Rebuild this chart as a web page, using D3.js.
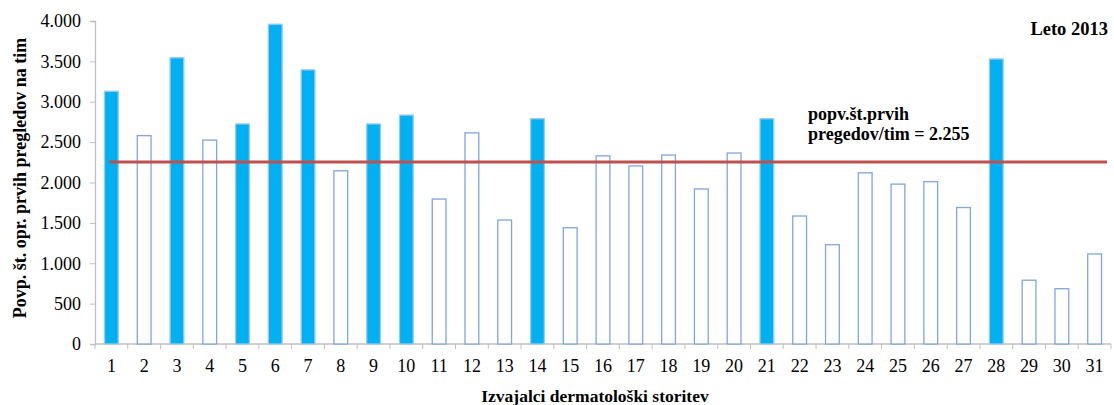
<!DOCTYPE html>
<html>
<head>
<meta charset="utf-8">
<script src="https://cdn.jsdelivr.net/npm/d3@7"></script>
<style>
  body { margin: 0; background: #fff; }
</style>
</head>
<body>
<svg id="chart" width="1114" height="405"></svg>
<script>
// Providers of dermatology services, 2013
const providers = d3.range(1, 32).map(String);
const firstVisits = [3130, 2580, 3545, 2525, 2725, 3960, 3395, 2145, 2725, 2835,
                     1795, 2615, 1535, 2790, 1440, 2330, 2205, 2340, 1920, 2365,
                     2790, 1585, 1230, 2120, 1980, 2010, 1690, 3530, 790, 685, 1115];
// Providers above the average are drawn as solid bars
const aboveAverage = ["1", "3", "5", "6", "7", "9", "10", "14", "21", "28"];
const averageValue = 2255;
const yTicks = [0, 500, 1000, 1500, 2000, 2500, 3000, 3500, 4000];

const SERIF = "'Liberation Serif'";

const svg = d3.select("#chart");
const margin = { left: 95, right: 3, top: 21, bottom: 61 };
const W = 1114, H = 405;

const x = d3.scaleBand().domain(providers)
  .range([margin.left, W - margin.right]).paddingInner(0.58).paddingOuter(0.29);
const y = d3.scaleLinear().domain([0, 4000]).range([H - margin.bottom, margin.top]);

const fmt = d => d3.format(",")(d).replace(/,/g, ".");

// Y axis
const gy = svg.append("g").attr("transform", `translate(${margin.left},0)`)
  .call(d3.axisLeft(y).tickValues(yTicks).tickSize(5).tickPadding(9).tickFormat(fmt));
gy.attr("font-family", null).attr("font-size", null);
gy.select(".domain").attr("stroke", "#bfbfbf").attr("stroke-width", 1.3);
gy.selectAll(".tick line").attr("stroke", "#bfbfbf");
gy.selectAll(".tick text")
  .style("font-family", SERIF).style("font-size", "18px").attr("fill", "#000");

// X axis: ticks sit on the category boundaries
const bounds = d3.range(0, providers.length + 1)
  .map(i => margin.left + i * (W - margin.right - margin.left) / providers.length);
svg.append("line")
  .attr("x1", margin.left).attr("x2", W - margin.right)
  .attr("y1", y(0)).attr("y2", y(0))
  .attr("stroke", "#bfbfbf").attr("stroke-width", 1.3);
svg.selectAll(".xtick").data(bounds).join("line")
  .attr("class", "xtick")
  .attr("x1", d => d).attr("x2", d => d)
  .attr("y1", y(0)).attr("y2", y(0) + 5)
  .attr("stroke", "#bfbfbf");
svg.selectAll(".xlabel").data(providers).join("text")
  .attr("class", "xlabel")
  .attr("x", d => x(d) + x.bandwidth() / 2)
  .attr("y", y(0) + 28)
  .attr("text-anchor", "middle")
  .style("font-family", SERIF)
  .style("font-size", "18px")
  .text(d => d);

// Bars
svg.selectAll(".bar").data(providers).join("rect")
  .attr("class", "bar")
  .attr("x", d => x(d))
  .attr("y", (d, i) => y(firstVisits[i]))
  .attr("width", x.bandwidth())
  .attr("height", (d, i) => y(0) - y(firstVisits[i]))
  .attr("fill", d => aboveAverage.includes(d) ? "#00b0f0" : "#ffffff")
  .attr("stroke", d => aboveAverage.includes(d) ? "#9cc9f0" : "#7ea6e0")
  .attr("stroke-width", 1.3);

// Average line
svg.append("line")
  .attr("x1", x("1") + x.bandwidth() / 2 - 2)
  .attr("x2", W - margin.right - 4)
  .attr("y1", y(averageValue)).attr("y2", y(averageValue))
  .attr("stroke", "#c0504d").attr("stroke-width", 3);

// Average annotation
const ann = svg.append("text")
  .attr("x", 808).attr("y", 120)
  .style("font-family", SERIF)
  .style("font-size", "18px").style("font-weight", "bold");
ann.append("tspan").attr("x", 808).text("popv.št.prvih");
ann.append("tspan").attr("x", 808).attr("dy", 20).text(`pregedov/tim = ${fmt(averageValue)}`);

// Year label
svg.append("text")
  .attr("x", 1108).attr("y", 35)
  .attr("text-anchor", "end")
  .style("font-family", SERIF)
  .style("font-size", "18.5px").style("font-weight", "bold")
  .text("Leto 2013");

// Axis titles
svg.append("text")
  .attr("transform", `translate(26, 178) rotate(-90)`)
  .attr("text-anchor", "middle")
  .style("font-family", SERIF)
  .style("font-size", "18px").style("font-weight", "bold")
  .text("Povp. št. opr. prvih pregledov na tim");

svg.append("text")
  .attr("x", 595)
  .attr("y", 402)
  .attr("text-anchor", "middle")
  .style("font-family", SERIF)
  .style("font-size", "17.5px").style("font-weight", "bold")
  .text("Izvajalci dermatološki storitev");
</script>
</body>
</html>
